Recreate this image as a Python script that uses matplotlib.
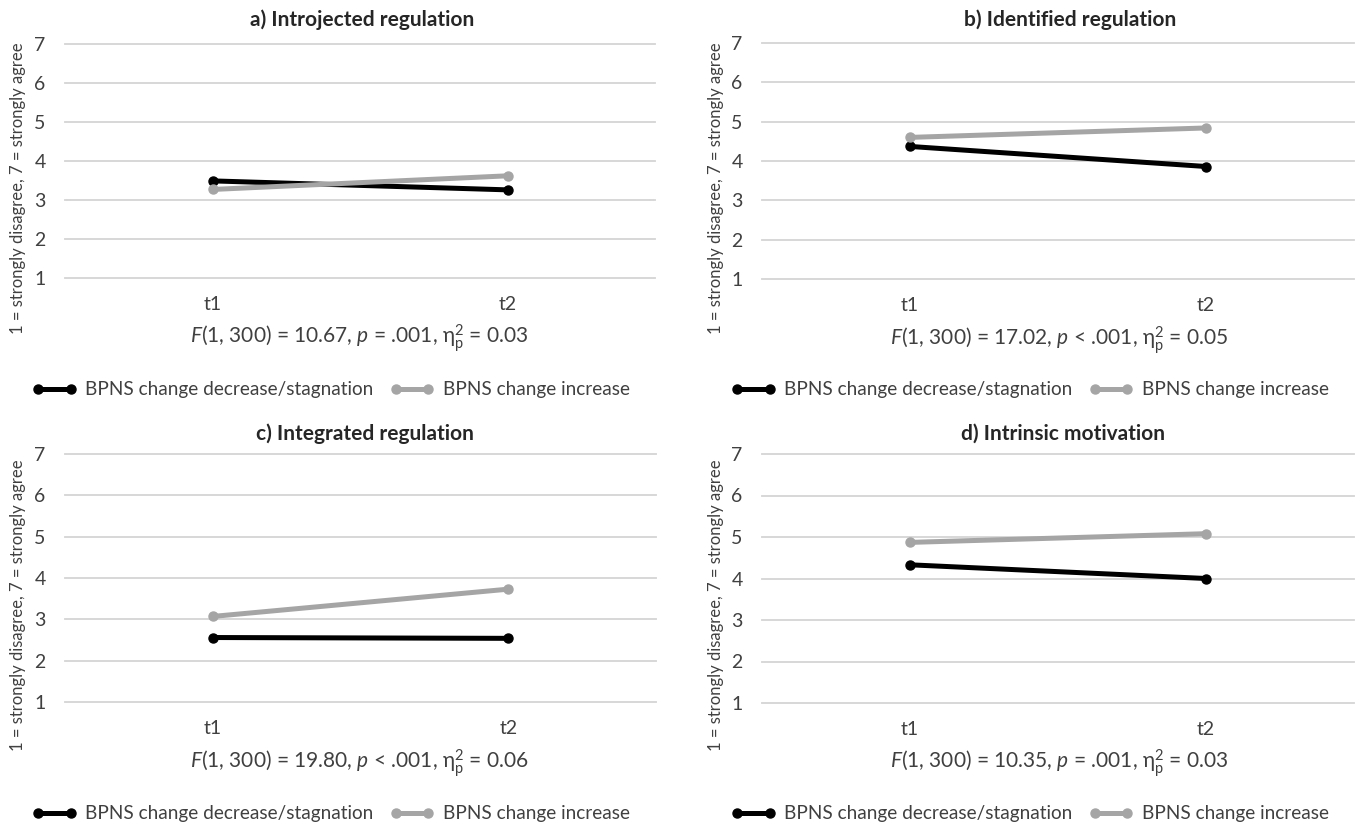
import matplotlib
matplotlib.use("Agg")
import matplotlib.pyplot as plt
from matplotlib.lines import Line2D

plt.rcParams['font.family'] = ['Lato', 'DejaVu Sans']
plt.rcParams['mathtext.fontset'] = 'custom'
plt.rcParams['mathtext.rm'] = 'Lato'
plt.rcParams['mathtext.it'] = 'Lato:italic'
plt.rcParams['mathtext.bf'] = 'Lato:bold'

W, H = 1357, 827

times = ["t1", "t2"]
yticks = [1, 2, 3, 4, 5, 6, 7]
series_names = ["BPNS change decrease/stagnation", "BPNS change increase"]
ylabel_text = "1 = strongly disagree, 7 = strongly agree"

titles = ["a) Introjected regulation", "b) Identified regulation",
          "c) Integrated regulation", "d) Intrinsic motivation"]

decrease_a = [3.49, 3.26]
increase_a = [3.27, 3.62]
decrease_b = [4.37, 3.86]
increase_b = [4.60, 4.84]
decrease_c = [2.56, 2.54]
increase_c = [3.07, 3.73]
decrease_d = [4.33, 4.00]
increase_d = [4.87, 5.08]

stats = [
    r"$\mathit{F}$(1, 300) = 10.67, $\mathit{p}$ = .001, $\mathrm{\eta}_\mathrm{p}^2$ = 0.03",
    r"$\mathit{F}$(1, 300) = 17.02, $\mathit{p}$ < .001, $\mathrm{\eta}_\mathrm{p}^2$ = 0.05",
    r"$\mathit{F}$(1, 300) = 19.80, $\mathit{p}$ < .001, $\mathrm{\eta}_\mathrm{p}^2$ = 0.06",
    r"$\mathit{F}$(1, 300) = 10.35, $\mathit{p}$ = .001, $\mathrm{\eta}_\mathrm{p}^2$ = 0.03",
]

data = [(decrease_a, increase_a), (decrease_b, increase_b),
        (decrease_c, increase_c), (decrease_d, increase_d)]

# layout in pixels: axes (x0, ytop, x1, ybottom), title center, ylabel x, stat center, legend center
layout = [
    dict(ax=(65, 44, 655, 278), title=(362, 20), ylab=(18, 188), stat=(359, 338), leg=(331, 390)),
    dict(ax=(762, 43, 1354, 279), title=(1070, 20), ylab=(716, 188), stat=(1059, 340), leg=(1030, 390)),
    dict(ax=(65, 454, 656, 702), title=(365, 434), ylab=(18, 605), stat=(359, 763), leg=(331, 814)),
    dict(ax=(762, 454, 1354, 703), title=(1063, 434), ylab=(716, 605), stat=(1059, 763), leg=(1030, 814)),
]

BLACK = "#000000"
GRAY = "#a5a5a5"
TXT = "#404040"

fig = plt.figure(figsize=(W / 100, H / 100), dpi=100)

def fx(x):
    return x / W

def fy(y):
    return 1 - y / H

for i in range(4):
    L = layout[i]
    x0, yt, x1, yb = L['ax']
    ax = fig.add_axes([fx(x0), fy(yb), (x1 - x0) / W, (yb - yt) / H])
    dec, inc = data[i]
    xs = list(range(len(times)))
    ax.plot(xs, dec, color=BLACK, lw=3.6, marker='o', ms=6.5, solid_capstyle='round', zorder=3)
    ax.plot(xs, inc, color=GRAY, lw=3.6, marker='o', ms=6.5, solid_capstyle='round', zorder=4)
    ax.set_xlim(-0.5, 1.5)
    ax.set_ylim(1, 7)
    ax.set_yticks(yticks)
    ax.set_xticks(xs)
    ax.set_xticklabels(times)
    ax.grid(axis='y', color='#d4d4d4', lw=1.3)
    for gl in ax.get_ygridlines():
        gl.set_clip_on(False)
    ax.set_axisbelow(True)
    for s in ax.spines.values():
        s.set_visible(False)
    ax.tick_params(axis='both', length=0, labelsize=14, colors=TXT)
    ax.tick_params(axis='x', pad=13)
    ax.tick_params(axis='y', pad=14)
    fig.text(fx(L['title'][0]), fy(L['title'][1]), titles[i], ha='center', va='center',
             fontsize=15, fontweight='bold', color='#262626')
    fig.text(fx(L['ylab'][0]), fy(L['ylab'][1]), ylabel_text, rotation=90, ha='center', va='center',
             fontsize=12, color=TXT)
    fig.text(fx(L['stat'][0]), fy(L['stat'][1]), stats[i], ha='center', va='center',
             fontsize=15, color=TXT)
    handles = [Line2D([], [], color=BLACK, lw=3.6, marker='o', ms=6.5),
               Line2D([], [], color=GRAY, lw=3.6, marker='o', ms=6.5)]
    fig.legend(handles, series_names, loc='center', bbox_to_anchor=(fx(L['leg'][0]), fy(L['leg'][1])),
               ncol=2, frameon=False, fontsize=13.7, numpoints=2, handlelength=2.3,
               handletextpad=0.45, columnspacing=0.9, labelcolor=TXT,
               borderpad=0, borderaxespad=0)

fig.savefig("out.png", dpi=100, facecolor='white')
